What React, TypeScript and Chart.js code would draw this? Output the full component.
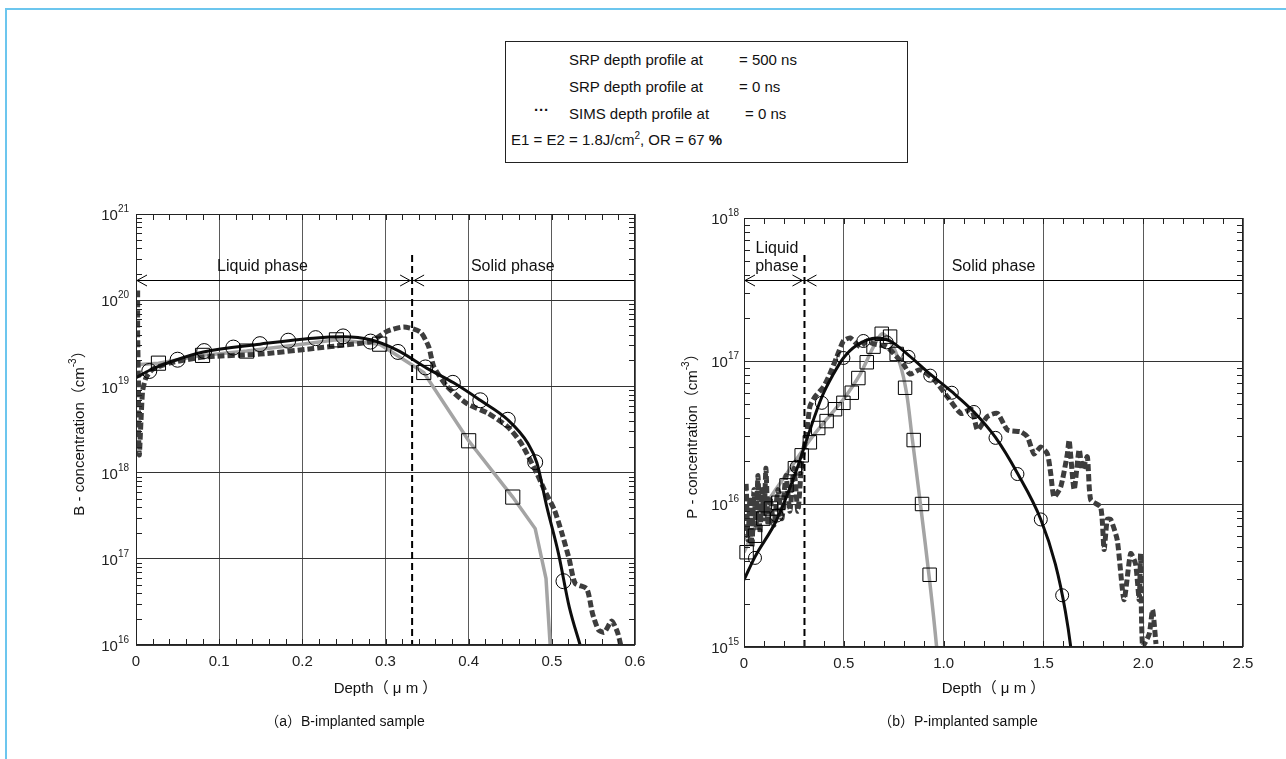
import React, { useEffect, useRef } from "react";
import { Chart, registerables } from "chart.js";

Chart.register(...registerables);

const FONT = '"Liberation Sans", Arial, "Noto Sans CJK JP", sans-serif';

// ---------- (a) B-implanted sample ----------
const bCurve500X = [0, 0.017, 0.049, 0.081, 0.149, 0.213, 0.25, 0.282, 0.314, 0.35, 0.382, 0.414, 0.447, 0.471, 0.482, 0.494, 0.508, 0.521, 0.534, 0.54];
const bCurve500Y = [1.26e19, 1.55e19, 2.04e19, 2.51e19, 3.09e19, 3.63e19, 3.76e19, 3.47e19, 2.63e19, 1.62e19, 1.1e19, 6.9e18, 4.1e18, 2.2e18, 1.3e18, 4.0e17, 1.15e17, 2.75e16, 1.0e16, 6.3e15];
const bMark500X = [0.016, 0.05, 0.082, 0.117, 0.149, 0.183, 0.216, 0.249, 0.282, 0.315, 0.348, 0.381, 0.414, 0.447, 0.48, 0.514];
const bMark500Y = [1.51e19, 2.04e19, 2.57e19, 2.82e19, 3.09e19, 3.39e19, 3.63e19, 3.8e19, 3.31e19, 2.51e19, 1.66e19, 1.1e19, 6.9e18, 4.1e18, 1.32e18, 5.5e16];
const bLine0X = [0, 0.027, 0.08, 0.133, 0.19, 0.241, 0.293, 0.346, 0.4, 0.453, 0.48, 0.493, 0.498, 0.5];
const bLine0Y = [1.78e19, 1.86e19, 2.29e19, 2.57e19, 3.0e19, 3.47e19, 3.09e19, 1.45e19, 2.34e18, 5.2e17, 2.24e17, 5.9e16, 1.0e16, 3.2e15];
const bMark0X = [0.027, 0.08, 0.133, 0.241, 0.293, 0.346, 0.4, 0.453];
const bMark0Y = [1.86e19, 2.29e19, 2.57e19, 3.47e19, 3.09e19, 1.45e19, 2.34e18, 5.2e17];
const bSimsX = [0.002, 0.002, 0.003, 0.003, 0.004, 0.006, 0.008, 0.012, 0.02, 0.04, 0.081, 0.149, 0.213, 0.25, 0.282, 0.302, 0.322, 0.342, 0.352, 0.358, 0.374, 0.398, 0.423, 0.447, 0.463, 0.482, 0.491, 0.503, 0.512, 0.521, 0.528, 0.542, 0.549, 0.556, 0.563, 0.572, 0.579, 0.584];
const bSimsY = [1.3e20, 4e19, 1e19, 3.2e18, 1.6e18, 4e18, 8.9e18, 1.26e19, 1.58e19, 1.86e19, 2.19e19, 2.37e19, 2.75e19, 3.02e19, 3.31e19, 4.37e19, 4.9e19, 4.27e19, 2.88e19, 1.7e19, 1.0e19, 6.3e18, 4.9e18, 3.4e18, 2.2e18, 9.8e17, 6.3e17, 3.7e17, 2.0e17, 9.8e16, 5.2e16, 4.5e16, 2.3e16, 1.5e16, 1.4e16, 1.9e16, 1.4e16, 8.9e15];
const bXTicks = [0, 0.1, 0.2, 0.3, 0.4, 0.5, 0.6];
const bXTickLabels = ["0", "0.1", "0.2", "0.3", "0.4", "0.5", "0.6"];
const bYExps = [16, 17, 18, 19, 20, 21];

// ---------- (b) P-implanted sample ----------
const pCurve500X = [0, 0.055, 0.164, 0.264, 0.314, 0.39, 0.448, 0.498, 0.565, 0.665, 0.732, 0.824, 0.933, 1.041, 1.152, 1.26, 1.37, 1.487, 1.56, 1.61, 1.637, 1.66];
const pCurve500Y = [2.95e15, 4.27e15, 7.76e15, 1.74e16, 2.82e16, 5.6e16, 8.1e16, 1.05e17, 1.29e17, 1.45e17, 1.38e17, 1.1e17, 8.1e16, 6.1e16, 4.4e16, 2.92e16, 1.64e16, 7.8e15, 3.8e15, 1.78e15, 1.0e15, 5e14];
const pMark500X = [0.055, 0.164, 0.264, 0.39, 0.498, 0.598, 0.715, 0.824, 0.933, 1.041, 1.152, 1.26, 1.37, 1.487, 1.594];
const pMark500Y = [4.2e15, 8.3e15, 1.82e16, 5.1e16, 1.05e17, 1.38e17, 1.35e17, 1.07e17, 7.9e16, 6.0e16, 4.4e16, 2.9e16, 1.62e16, 7.8e15, 2.3e15];
const pLine0X = [0, 0.112, 0.213, 0.33, 0.413, 0.498, 0.582, 0.649, 0.691, 0.732, 0.782, 0.815, 0.84, 0.882, 0.932, 0.965, 0.975];
const pLine0Y = [4.6e15, 1.0e16, 1.62e16, 2.8e16, 3.9e16, 5.4e16, 8.1e16, 1.26e17, 1.55e17, 1.38e17, 9.5e16, 5.9e16, 3.1e16, 1.05e16, 2.75e15, 1.0e15, 6.3e14];
const pMark0X = [0.013, 0.055, 0.097, 0.135, 0.172, 0.213, 0.255, 0.289, 0.33, 0.372, 0.414, 0.456, 0.498, 0.54, 0.573, 0.615, 0.649, 0.69, 0.732, 0.765, 0.807, 0.85, 0.892, 0.93];
const pMark0Y = [4.6e15, 6.0e15, 7.9e15, 9.3e15, 1.02e16, 1.35e16, 1.78e16, 2.19e16, 2.7e16, 3.4e16, 3.8e16, 4.6e16, 5.1e16, 6.0e16, 7.6e16, 9.8e16, 1.26e17, 1.55e17, 1.48e17, 1.12e17, 6.5e16, 2.8e16, 1.0e16, 3.2e15];
const pSimsX = [0, 0.01, 0.02, 0.03, 0.04, 0.05, 0.06, 0.07, 0.08, 0.09, 0.1, 0.11, 0.12, 0.13, 0.15, 0.17, 0.19, 0.21, 0.23, 0.25, 0.27, 0.29, 0.314, 0.33, 0.355, 0.398, 0.43, 0.465, 0.498, 0.532, 0.582, 0.615, 0.649, 0.715, 0.765, 0.799, 0.832, 0.882, 0.953, 1.02, 1.087, 1.14, 1.17, 1.22, 1.27, 1.32, 1.387, 1.42, 1.453, 1.487, 1.52, 1.537, 1.553, 1.587, 1.62, 1.629, 1.654, 1.679, 1.696, 1.72, 1.737, 1.787, 1.804, 1.82, 1.837, 1.87, 1.904, 1.937, 1.962, 1.98, 1.987, 1.997, 2.03, 2.047, 2.064];
const pSimsY = [8.9e15, 1.41e16, 5.6e15, 1.12e16, 5.0e15, 1.26e16, 7.1e15, 1.58e16, 6.3e15, 1.26e16, 7.9e15, 1.78e16, 7.1e15, 1.12e16, 7.1e15, 1.26e16, 7.9e15, 1.58e16, 8.9e15, 1.78e16, 8.9e15, 2.0e16, 3.1e16, 4.8e16, 5.6e16, 6.6e16, 8.1e16, 1.07e17, 1.38e17, 1.45e17, 1.26e17, 1.38e17, 1.32e17, 1.26e17, 1.07e17, 9.5e16, 8.1e16, 8.7e16, 7.4e16, 5.6e16, 4.3e16, 4.6e16, 3.3e16, 4.1e16, 4.3e16, 3.3e16, 3.2e16, 2.95e16, 2.24e16, 2.5e16, 2.24e16, 1.62e16, 1.12e16, 1.32e16, 2.24e16, 2.8e16, 1.26e16, 2.4e16, 1.74e16, 2.14e16, 1.07e16, 9.5e15, 4.8e15, 7.8e15, 7.8e15, 5.6e15, 2.14e15, 4.5e15, 3.8e15, 2.14e15, 4.5e15, 1.0e15, 1.23e15, 1.82e15, 1.05e15];
const pXTicks = [0, 0.5, 1.0, 1.5, 2.0, 2.5];
const pXTickLabels = ["0", "0.5", "1.0", "1.5", "2.0", "2.5"];
const pYExps = [15, 16, 17, 18];

const pts = (xs: number[], ys: number[]) => xs.map((x, i) => ({ x, y: ys[i] }));

type Part = [string, boolean];

function drawParts(ctx: CanvasRenderingContext2D, parts: Part[], x: number, y: number, align: "left" | "center" | "right", size: number) {
  const supSize = Math.round(size * 0.68);
  let total = 0;
  const widths = parts.map(([t, sup]) => {
    ctx.font = `${sup ? supSize : size}px ${FONT}`;
    const w = ctx.measureText(t).width;
    total += w;
    return w;
  });
  let cx = align === "left" ? x : align === "center" ? x - total / 2 : x - total;
  ctx.textAlign = "left";
  ctx.textBaseline = "middle";
  parts.forEach(([t, sup], i) => {
    ctx.font = `${sup ? supSize : size}px ${FONT}`;
    ctx.fillText(t, cx, sup ? y - size * 0.45 : y);
    cx += widths[i];
  });
}

type Spec = {
  left: number; width: number; height: number;
  padding: { left: number; right: number; top: number; bottom: number };
  xMin: number; xMax: number; xTicks: number[]; xTickLabels: string[]; xMinor: number;
  yExps: number[]; yLabelGap: number;
  boundary: number; boundaryTopPx: number; arrowPx: number;
  phase: { text: string; x: number; dy: number }[];
  yTitle: Part[]; yTitleX: number;
  xTitle: string; xTitleY: number;
  caption: string; captionX: number; captionY: number;
  markR: { circle: number; rect: number };
  datasets: { curve500: any[]; mark500: any[]; line0: any[]; mark0: any[]; sims: any[]; line0Tension: number };
};

function makeDeco(s: Spec) {
  return {
    id: "deco",
    afterDatasetsDraw(chart: any) {
      const { ctx, chartArea: a, scales } = chart;
      const x = scales.x;
      ctx.save();
      ctx.strokeStyle = "#000";
      const dx = x.getPixelForValue(s.boundary);
      ctx.lineWidth = 2;
      ctx.setLineDash([7, 4]);
      ctx.beginPath();
      ctx.moveTo(dx, s.boundaryTopPx);
      ctx.lineTo(dx, a.bottom);
      ctx.stroke();
      ctx.setLineDash([]);
      const ay = s.arrowPx;
      ctx.lineWidth = 1;
      ctx.beginPath();
      ctx.moveTo(a.left, ay + 0.5);
      ctx.lineTo(a.right, ay + 0.5);
      ctx.stroke();
      const head = (tip: number, dir: number) => {
        ctx.beginPath();
        ctx.moveTo(tip + dir * 10, ay - 5);
        ctx.lineTo(tip, ay + 0.5);
        ctx.lineTo(tip + dir * 10, ay + 6);
        ctx.stroke();
      };
      head(a.left + 1, 1);
      head(dx - 2, -1);
      head(dx + 2, 1);
      ctx.fillStyle = "#111";
      ctx.font = `16px ${FONT}`;
      ctx.textAlign = "center";
      ctx.textBaseline = "middle";
      s.phase.forEach((p) => ctx.fillText(p.text, x.getPixelForValue(p.x), ay + p.dy));
      ctx.restore();
    },
    afterDraw(chart: any) {
      const { ctx, chartArea: a, scales } = chart;
      const x = scales.x;
      const y = scales.y;
      ctx.save();
      ctx.strokeStyle = "#222";
      ctx.lineWidth = 1;
      ctx.strokeRect(a.left + 0.5, a.top + 0.5, a.right - a.left - 1, a.bottom - a.top - 1);
      ctx.beginPath();
      const nx = Math.round((s.xMax - s.xMin) / s.xMinor);
      for (let i = 1; i < nx; i++) {
        const px = Math.round(x.getPixelForValue(s.xMin + i * s.xMinor)) + 0.5;
        ctx.moveTo(px, a.bottom);
        ctx.lineTo(px, a.bottom - 6);
        ctx.moveTo(px, a.top);
        ctx.lineTo(px, a.top + 6);
      }
      for (let e = s.yExps[0]; e < s.yExps[s.yExps.length - 1]; e++) {
        for (let k = 2; k <= 9; k++) {
          const py = Math.round(y.getPixelForValue(k * Math.pow(10, e))) + 0.5;
          ctx.moveTo(a.left, py);
          ctx.lineTo(a.left + 6, py);
          ctx.moveTo(a.right, py);
          ctx.lineTo(a.right - 6, py);
        }
      }
      ctx.stroke();
      ctx.fillStyle = "#222";
      s.xTicks.forEach((v, i) => {
        drawParts(ctx, [[s.xTickLabels[i], false]], x.getPixelForValue(v), a.bottom + 17, "center", 15);
      });
      s.yExps.forEach((e) => {
        const py = y.getPixelForValue(Math.pow(10, e));
        drawParts(ctx, [["10", false], [String(e), true]], a.left - s.yLabelGap, py + 2, "right", 15);
      });
      ctx.fillStyle = "#111";
      drawParts(ctx, [[s.xTitle, false]], (a.left + a.right) / 2, s.xTitleY, "center", 15);
      drawParts(ctx, [[s.caption, false]], s.captionX, s.captionY, "center", 14);
      ctx.save();
      ctx.translate(s.yTitleX, (a.top + a.bottom) / 2);
      ctx.rotate(-Math.PI / 2);
      drawParts(ctx, s.yTitle, 0, 0, "center", 15);
      ctx.restore();
      ctx.restore();
    },
  };
}

function buildConfig(s: Spec): any {
  const d = s.datasets;
  const decades = s.yExps.map((e) => Math.pow(10, e));
  return {
    type: "line",
    data: {
      datasets: [
        { data: d.line0, borderColor: "#a4a4a4", borderWidth: 3.5, pointRadius: 0, tension: d.line0Tension, clip: 0, order: 6 },
        { data: d.sims, borderColor: "#3d3d3d", borderWidth: 5, borderDash: [7, 3], pointRadius: 0, tension: 0.2, clip: 0, order: 5 },
        { data: d.curve500, borderColor: "#0d0d0d", borderWidth: 3, pointRadius: 0, cubicInterpolationMode: "monotone", clip: 0, order: 4 },
        { data: d.mark0, showLine: false, pointStyle: "rect", pointRadius: s.markR.rect, pointBorderColor: "#000", pointBackgroundColor: "rgba(0,0,0,0)", pointBorderWidth: 1, clip: 12, order: 3 },
        { data: d.mark500, showLine: false, pointStyle: "circle", pointRadius: s.markR.circle, pointBorderColor: "#000", pointBackgroundColor: "rgba(0,0,0,0)", pointBorderWidth: 1, clip: 12, order: 2 },
      ],
    },
    options: {
      animation: false,
      responsive: false,
      maintainAspectRatio: false,
      events: [],
      layout: { padding: s.padding },
      plugins: { legend: { display: false }, tooltip: { enabled: false } },
      scales: {
        x: {
          type: "linear",
          min: s.xMin,
          max: s.xMax,
          afterBuildTicks: (sc: any) => { sc.ticks = s.xTicks.map((v) => ({ value: v })); },
          afterFit: (sc: any) => { sc.height = 0; },
          ticks: { display: false },
          grid: { color: "#5a5a5a", lineWidth: 1, drawTicks: false },
          border: { display: false },
        },
        y: {
          type: "logarithmic",
          min: decades[0],
          max: decades[decades.length - 1],
          afterBuildTicks: (sc: any) => { sc.ticks = decades.map((v) => ({ value: v })); },
          afterFit: (sc: any) => { sc.width = 0; },
          ticks: { display: false },
          grid: { color: "#333", lineWidth: 1, drawTicks: false },
          border: { display: false },
        },
      },
    },
    plugins: [makeDeco(s)],
  };
}

const specA: Spec = {
  left: 0, width: 660, height: 759,
  padding: { left: 136, right: 25, top: 214, bottom: 114 },
  xMin: 0, xMax: 0.6, xTicks: bXTicks, xTickLabels: bXTickLabels, xMinor: 0.02,
  yExps: bYExps, yLabelGap: 7,
  boundary: 0.332, boundaryTopPx: 255, arrowPx: 280,
  phase: [{ text: "Liquid phase", x: 0.152, dy: -13 }, { text: "Solid phase", x: 0.453, dy: -13 }],
  yTitle: [["B - concentration（cm", false], ["-3", true], ["）", false]], yTitleX: 80,
  xTitle: "Depth（ μ m ）", xTitleY: 689,
  caption: "（a）B-implanted sample", captionX: 345, captionY: 722,
  markR: { circle: 7.5, rect: 10 },
  datasets: {
    curve500: pts(bCurve500X, bCurve500Y),
    mark500: pts(bMark500X, bMark500Y),
    line0: pts(bLine0X, bLine0Y),
    mark0: pts(bMark0X, bMark0Y),
    sims: pts(bSimsX, bSimsY),
    line0Tension: 0,
  },
};

const specB: Spec = {
  left: 660, width: 626, height: 759,
  padding: { left: 84, right: 43, top: 218, bottom: 112 },
  xMin: 0, xMax: 2.5, xTicks: pXTicks, xTickLabels: pXTickLabels, xMinor: 0.1,
  yExps: pYExps, yLabelGap: 5,
  boundary: 0.303, boundaryTopPx: 255, arrowPx: 280,
  phase: [{ text: "Liquid", x: 0.165, dy: -31 }, { text: "phase", x: 0.165, dy: -13 }, { text: "Solid phase", x: 1.25, dy: -13 }],
  yTitle: [["P - concentration（cm", false], ["-3", true], ["）", false]], yTitleX: 33,
  xTitle: "Depth（ μ m ）", xTitleY: 689,
  caption: "（b）P-implanted sample", captionX: 298, captionY: 722,
  markR: { circle: 6.5, rect: 9.5 },
  datasets: {
    curve500: pts(pCurve500X, pCurve500Y),
    mark500: pts(pMark500X, pMark500Y),
    line0: pts(pLine0X, pLine0Y),
    mark0: pts(pMark0X, pMark0Y),
    sims: pts(pSimsX, pSimsY),
    line0Tension: 0.3,
  },
};

function Panel({ spec }: { spec: Spec }) {
  const ref = useRef<HTMLCanvasElement | null>(null);
  useEffect(() => {
    if (!ref.current) return;
    const chart = new Chart(ref.current, buildConfig(spec));
    return () => chart.destroy();
  }, [spec]);
  return (
    <canvas
      ref={ref}
      width={spec.width}
      height={spec.height}
      style={{ position: "absolute", left: spec.left, top: 0, width: spec.width, height: spec.height }}
    />
  );
}

export default function App() {
  const txt: React.CSSProperties = { position: "absolute", fontFamily: FONT, fontSize: 15, color: "#111", whiteSpace: "nowrap", lineHeight: "18px" };
  return (
    <div style={{ position: "absolute", left: 0, top: 0, width: 1286, height: 759, background: "#fff", overflow: "hidden" }}>
      <div style={{ position: "absolute", left: 5, top: 8, right: -10, bottom: -10, borderTop: "2px solid #6cc6ee", borderLeft: "2px solid #6cc6ee" }} />
      <Panel spec={specA} />
      <Panel spec={specB} />
      <div style={{ position: "absolute", left: 505, top: 41, width: 401, height: 120, border: "1px solid #222", background: "#fff" }}>
        <span style={{ ...txt, left: 63, top: 9 }}>SRP depth profile at</span>
        <span style={{ ...txt, left: 233, top: 9 }}>= 500 ns</span>
        <span style={{ ...txt, left: 63, top: 36 }}>SRP depth profile at</span>
        <span style={{ ...txt, left: 233, top: 36 }}>= 0 ns</span>
        <span style={{ ...txt, left: 28, top: 59, fontWeight: "bold" }}>···</span>
        <span style={{ ...txt, left: 63, top: 63 }}>SIMS depth profile at</span>
        <span style={{ ...txt, left: 239, top: 63 }}>= 0 ns</span>
        <span style={{ ...txt, left: 5, top: 89 }}>
          E1 = E2 = 1.8J/cm<sup style={{ fontSize: 10, lineHeight: 0 }}>2</sup>, OR = 67 <b>%</b>
        </span>
      </div>
    </div>
  );
}
